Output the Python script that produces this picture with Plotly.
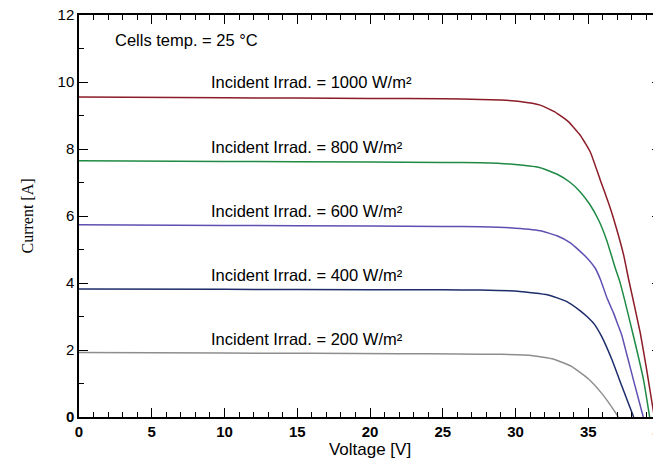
import plotly.graph_objects as go

# ---- data ----
v_1000 = [0, 10, 20, 25, 27.6, 29.0, 30.3, 31.7, 32.7, 33.65, 34.45, 35.14, 35.83, 36.4, 36.7, 37.43, 37.77, 38.58, 39.0, 39.54]
i_1000 = [9.55, 9.53, 9.51, 9.50, 9.48, 9.46, 9.42, 9.31, 9.11, 8.81, 8.41, 7.91, 7.07, 6.38, 5.98, 4.84, 4.12, 2.50, 1.45, 0.0]

v_800 = [0, 10, 20, 25, 27.6, 29.6, 31.7, 32.9, 33.77, 34.45, 35.1, 35.71, 36.29, 36.86, 37.15, 38.06, 38.8, 39.22]
i_800 = [7.65, 7.63, 7.61, 7.60, 7.59, 7.55, 7.44, 7.24, 7.0, 6.72, 6.35, 5.88, 5.25, 4.44, 4.07, 2.50, 1.11, 0.0]

v_600 = [0, 10, 20, 25, 27.6, 29.6, 31.7, 32.85, 33.77, 34.8, 35.48, 35.85, 36.29, 36.74, 37.0, 37.3, 37.66, 38.2, 38.78]
i_600 = [5.74, 5.72, 5.70, 5.69, 5.68, 5.65, 5.56, 5.41, 5.20, 4.80, 4.44, 4.09, 3.55, 3.10, 2.80, 2.45, 1.85, 0.95, 0.0]

v_400 = [0, 10, 20, 25, 27.6, 30.3, 32.2, 33.5, 34.45, 34.91, 35.4, 35.9, 36.63, 37.32, 38.12]
i_400 = [3.82, 3.81, 3.80, 3.795, 3.79, 3.75, 3.65, 3.45, 3.17, 3.00, 2.78, 2.42, 1.71, 0.91, 0.0]

v_200 = [0, 10, 22, 26, 29.0, 31.2, 32.6, 33.85, 35.0, 35.9, 36.5, 37.07]
i_200 = [1.925, 1.91, 1.89, 1.88, 1.87, 1.83, 1.73, 1.51, 1.14, 0.72, 0.37, 0.0]

irradiances = ["1000", "800", "600", "400", "200"]
label_y = [10.0, 8.05, 6.15, 4.24, 2.34]
label_x = 8.9
colors = ["#8b1c28", "#1e8a44", "#5d50b2", "#1d2c6a", "#8e8e8e"]

x_ticks = [0, 5, 10, 15, 20, 25, 30, 35, 40]
y_ticks = [0, 2, 4, 6, 8, 10, 12]
y_ticktext = ["<b>0</b>", "2", "4", "6", "8", "10", "12"]

series_v = [v_1000, v_800, v_600, v_400, v_200]
series_i = [i_1000, i_800, i_600, i_400, i_200]

SANS = "Liberation Sans, Arial, sans-serif"
SERIF = "Liberation Serif, Times New Roman, serif"

fig = go.Figure()
for v, i, c, irr in zip(series_v, series_i, colors, irradiances):
    fig.add_trace(go.Scatter(x=v, y=i, mode="lines", name=irr + " W/m²",
                             line=dict(color=c, width=1.5, shape="spline", smoothing=0.4),
                             showlegend=False, hoverinfo="x+y"))

annotations = [dict(x=2.36, y=11.24, xref="x", yref="y", text="Cells temp. = 25 °C",
                    showarrow=False, xanchor="left", yanchor="middle",
                    font=dict(family=SANS, size=16.5, color="black"))]
for irr, ly in zip(irradiances, label_y):
    annotations.append(dict(x=label_x, y=ly, xref="x", yref="y",
                            text="Incident Irrad. = " + irr + " W/m²",
                            showarrow=False, xanchor="left", yanchor="middle",
                            font=dict(family=SANS, size=16.5, color="black")))

# page body adds an 8px offset, margins compensate for it
fig.update_layout(
    width=653, height=458,
    margin=dict(l=71, r=0, t=7, b=49),
    paper_bgcolor="white", plot_bgcolor="white",
    annotations=annotations,
    xaxis=dict(range=[0, 40], tickvals=x_ticks, ticks="inside", ticklen=9, tickwidth=1,
               tickcolor="black", showline=True, linecolor="black", linewidth=1.5,
               mirror="ticks", showgrid=False, zeroline=False, automargin=False,
               ticklabeloverflow="allow",
               tickfont=dict(family=SANS, size=15, color="black", weight="bold"),
               minor=dict(dtick=1, ticks="inside", ticklen=5, tickwidth=1, tickcolor="black", showgrid=False),
               title=dict(text="Voltage [V]", font=dict(family=SANS, size=17, color="black"), standoff=4)),
    yaxis=dict(range=[0, 12], tickvals=y_ticks, ticktext=y_ticktext, ticks="inside", ticklen=9,
               tickwidth=1, tickcolor="black", showline=True, linecolor="black", linewidth=1.5,
               mirror="ticks", showgrid=False, zeroline=False, automargin=False,
               ticklabeloverflow="allow",
               tickfont=dict(family=SANS, size=15, color="black"),
               minor=dict(dtick=1, ticks="inside", ticklen=5, tickwidth=1, tickcolor="black", showgrid=False),
               title=dict(text="Current [A]", font=dict(family=SERIF, size=16, color="black"), standoff=20)),
)

fig.write_html("out.html")
